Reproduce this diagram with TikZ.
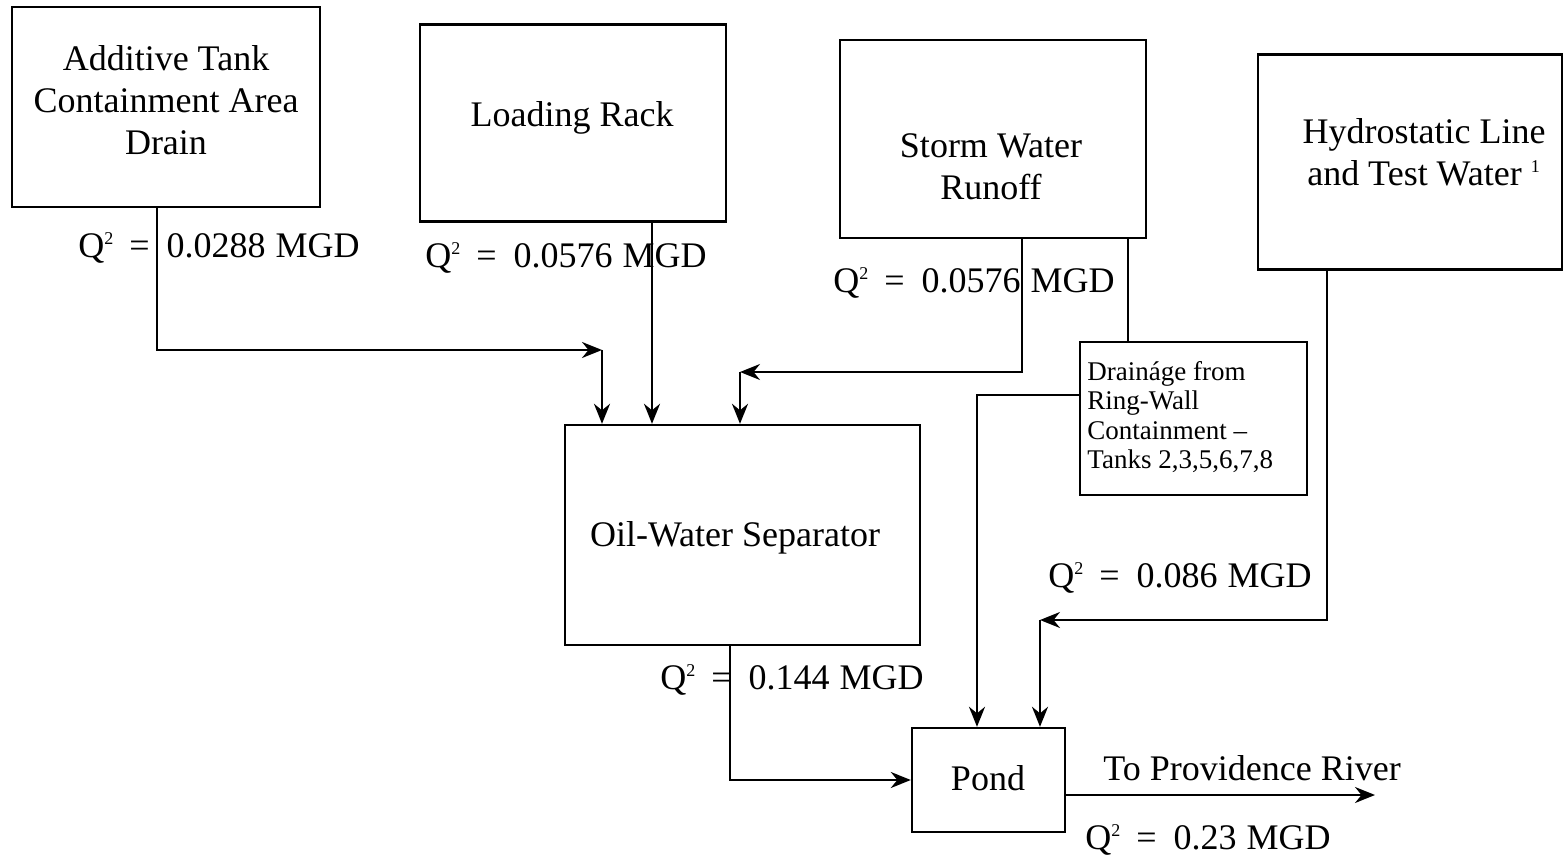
\documentclass[tikz,border=0pt]{standalone}
\usepackage{fontspec}
\setmainfont{Liberation Serif}
\usetikzlibrary{arrows.meta,calc}
\newcommand{\qflow}[1]{Q\textsuperscript{\small 2}\hspace{7.5pt}=\hspace{8.5pt}#1\hspace{5pt}MGD}
\begin{document}
\begin{tikzpicture}[x=0.5pt,y=-0.5pt,
  box/.style={draw, line width=1.2pt, inner sep=0pt},
  flow/.style={line width=1.2pt, -{Stealth[length=10pt,width=8pt]}},
  plain/.style={line width=1.2pt},
  txt/.style={font=\fontsize{18}{21}\selectfont, align=center, inner sep=0pt},
  lbl/.style={font=\fontsize{18}{21}\selectfont, inner sep=0pt, anchor=west},
  small/.style={font=\fontsize{13.5}{14.8}\selectfont, align=left, inner sep=0pt, anchor=west}]
\useasboundingbox (0,0) rectangle (1564,866);
\fill[white] (0,0) rectangle (1564,866);

% boxes
\node[box, minimum width=154pt, minimum height=100pt] (add) at (166,107) {};
\node[box, minimum width=153pt, minimum height=98.5pt] (load) at (573,123) {};
\node[box, minimum width=153pt, minimum height=99pt] (storm) at (993,139) {};
\node[box, minimum width=152pt, minimum height=107.5pt] (hydro) at (1410,162) {};
\node[box, minimum width=177.5pt, minimum height=110pt] (sep) at (742.5,535) {};
\node[box, minimum width=113.5pt, minimum height=76.5pt] (drain) at (1193.5,418.5) {};
\node[box, minimum width=76.5pt, minimum height=52pt] (pond) at (988.5,780) {};

% box texts
\node[txt] (addT) at (166,100) {Additive Tank\\Containment Area\\Drain};
\node[txt] (loadT) at (572,118) {Loading Rack};
\node[txt] (stormT) at (991,167) {Storm Water\\Runoff};
\node[txt] (hydroT) at (1424,152) {Hydrostatic Line\\and Test Water \textsuperscript{\small 1}};
\node[txt] (sepT) at (735,538) {Oil-Water Separator};
\node[txt] (pondT) at (988,778) {Pond};
\node[small] (drainT) at (1087,417) {Draináge from\\Ring-Wall\\Containment --\\Tanks 2,3,5,6,7,8};

% corner coordinates
\coordinate (c1) at (602,350);
\coordinate (c2) at (740,372);
\coordinate (c3) at (1040,620);

% connectors
\draw[flow] ([xshift=-4.5pt]add.south) |- (c1);
\draw[flow] (c1) -- (c1 |- sep.north);
\draw[flow] ([xshift=39.5pt]load.south) -- ([xshift=39.5pt]load.south |- sep.north);
\draw[flow] ([xshift=14.5pt]storm.south) |- (c2);
\draw[flow] (c2) -- (c2 |- sep.north);
\draw[plain] ([xshift=67.5pt]storm.south) -- ([xshift=67.5pt]storm.south |- drain.north);
\draw[flow] ([yshift=11.75pt]drain.west) -| ([xshift=-5.75pt]pond.north);
\draw[flow] ([xshift=-41.5pt]hydro.south) |- (c3);
\draw[flow] (c3) -- (c3 |- pond.north);
\draw[flow] ([xshift=-6.25pt]sep.south) |- (pond.west);
\coordinate (out) at (1375,795);
\draw[flow] (pond.east |- out) -- (out);

% labels
\node[lbl] (q1) at (78,248) {\qflow{0.0288}};
\node[lbl] (q2) at (425,258) {\qflow{0.0576}};
\node[lbl] (q3) at (833,283) {\qflow{0.0576}};
\node[lbl] (q4) at (1048,578) {\qflow{0.086}};
\node[lbl] (q5) at (660,680) {\qflow{0.144}};
\node[lbl] (riv) at (1103,768) {To Providence River};
\node[lbl] (q6) at (1085,840) {\qflow{0.23}};
\end{tikzpicture}
\end{document}
